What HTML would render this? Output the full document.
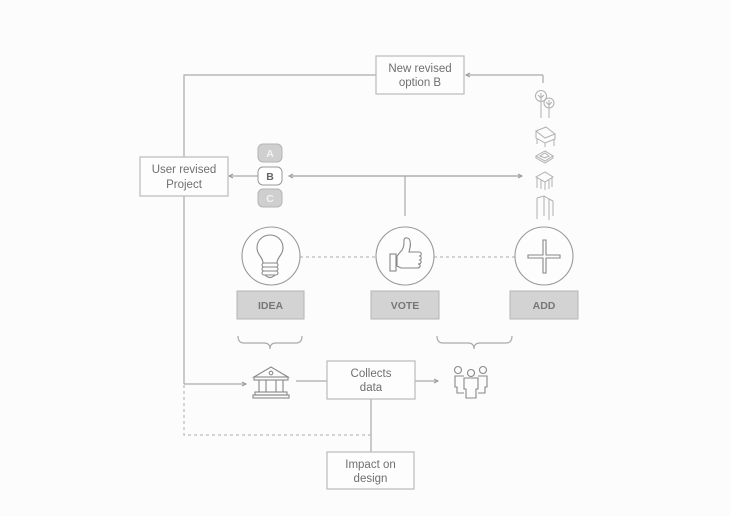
<!DOCTYPE html>
<html><head><meta charset="utf-8"><style>
html,body{margin:0;padding:0;background:#fcfcfc;}
svg{display:block;}
text{font-family:"Liberation Sans","DejaVu Sans",sans-serif;}
</style></head><body>
<svg width="730" height="516" viewBox="0 0 730 516" xmlns="http://www.w3.org/2000/svg">
<defs>
<marker id="ah" markerWidth="8" markerHeight="8" refX="6" refY="4" orient="auto" markerUnits="userSpaceOnUse">
<path d="M2,2 L6,4 L2,6" fill="none" stroke="#999" stroke-width="1"/>
</marker>
</defs>
<rect width="730" height="516" fill="#fcfcfc"/>
<g stroke="#aaa" stroke-width="1.2" fill="none">
<polyline points="184,384 184,75 376,75"/>
<line x1="543" y1="83" x2="543" y2="75"/>
<line x1="543" y1="75" x2="466" y2="75" marker-end="url(#ah)"/>
<line x1="258" y1="176" x2="229" y2="176" marker-end="url(#ah)"/>
<line x1="522" y1="176" x2="289" y2="176" marker-end="url(#ah)"/>
<line x1="289" y1="176" x2="522" y2="176" marker-end="url(#ah)"/>
<line x1="405" y1="176" x2="405" y2="216"/>
<line x1="300" y1="257" x2="376" y2="257" stroke-dasharray="3,3" stroke="#bbb"/>
<line x1="434" y1="257" x2="515" y2="257" stroke-dasharray="3,3" stroke="#bbb"/>
<line x1="184" y1="384" x2="246" y2="384" marker-end="url(#ah)"/>
<line x1="296" y1="381" x2="327" y2="381"/>
<line x1="415" y1="381" x2="438" y2="381" marker-end="url(#ah)"/>
<line x1="371" y1="399" x2="371" y2="452"/>
<polyline points="184,385 184,435 371,435" stroke-dasharray="3,3" stroke="#bbb"/>
<path d="M238,336 Q238,343 244,343 L264,343 Q270,343 270,349 Q270,343 276,343 L296,343 Q302,343 302,336"/>
<path d="M437,336 Q437,343 443,343 L468,343 Q474,343 474,349 Q474,343 480,343 L506,343 Q512,343 512,336"/>
</g>

<g stroke="#bbb" stroke-width="1.2" fill="#fdfdfd">
<rect x="376" y="56" width="88" height="38"/>
<rect x="140" y="157" width="88" height="39"/>
<rect x="327" y="361" width="88" height="38"/>
<rect x="327" y="452" width="87" height="37"/>
</g>
<g fill="#6f6f6f" font-size="11.5" text-anchor="middle">
<text x="420" y="72">New revised</text>
<text x="420" y="86">option B</text>
<text x="184" y="173">User revised</text>
<text x="184" y="188">Project</text>
<text x="371" y="377">Collects</text>
<text x="371" y="391">data</text>
<text x="370.5" y="468">Impact on</text>
<text x="370.5" y="482">design</text>
</g>

<rect x="258" y="144" width="24" height="18" rx="5" fill="#cfcfcf" stroke="#b5b5b5" stroke-width="1"/>
<rect x="258" y="167" width="24" height="18" rx="5" fill="#fff" stroke="#999" stroke-width="1"/>
<rect x="258" y="189" width="24" height="18" rx="5" fill="#cfcfcf" stroke="#b5b5b5" stroke-width="1"/>
<g font-size="10.5" font-weight="bold" text-anchor="middle">
<text x="270" y="157" fill="#f2f2f2">A</text>
<text x="270" y="180" fill="#666">B</text>
<text x="270" y="202" fill="#f2f2f2">C</text>
</g>

<g stroke="#999" stroke-width="1.1" fill="#fdfdfd">
<circle cx="271" cy="256" r="29"/>
<circle cx="405" cy="256" r="29"/>
<circle cx="544" cy="256" r="29"/>
</g>
<g stroke="#888" stroke-width="1.1" fill="none">
<path d="M263,263 C263,257 257,255 257,248 C257,240 263,235 270,235 C277,235 283,240 283,248 C283,255 277,257 277,263 Z"/>
<rect x="262" y="263" width="16" height="4" rx="2"/>
<rect x="262" y="267" width="16" height="4" rx="2"/>
<rect x="262" y="271" width="16" height="4" rx="2"/>
<path d="M265,275 Q270,280 275,275"/>
</g>
<g stroke="#888" stroke-width="1.1" fill="none">
<rect x="390" y="254" width="6" height="17"/>
<path d="M397,256 L402,250 C404,247 404,244 404,240 C404,237 409,237 410,241 C411,245 410,248 409,252 L419,252 C422,252 422,256 419,256 C422,256 422,260 419,260 C422,260 422,264 418,264 C421,264 421,268 417,268 L401,268 L397,266 Z"/>
</g>
<path d="M543,240 L546,240 L546,255 L560,255 L560,258 L546,258 L546,273 L543,273 L543,258 L528,258 L528,255 L543,255 Z" fill="none" stroke="#888" stroke-width="1.1"/>

<g fill="#d3d3d3" stroke="#b5b5b5" stroke-width="1">
<rect x="237" y="291" width="67" height="28"/>
<rect x="371" y="291" width="68" height="28"/>
<rect x="510" y="291" width="68" height="28"/>
</g>
<g fill="#777" font-size="10.5" font-weight="bold" text-anchor="middle">
<text x="270.5" y="309">IDEA</text>
<text x="405" y="309">VOTE</text>
<text x="544" y="309">ADD</text>
</g>

<g stroke="#888" stroke-width="1.1" fill="none">
<path d="M254,377 L271,367 L288,377 Z"/>
<circle cx="271" cy="373" r="1.8"/>
<rect x="254" y="377" width="34" height="3"/>
<line x1="259" y1="380" x2="259" y2="392"/>
<line x1="266" y1="380" x2="266" y2="392"/>
<line x1="276" y1="380" x2="276" y2="392"/>
<line x1="283" y1="380" x2="283" y2="392"/>
<rect x="255" y="392" width="32" height="3"/>
<rect x="253" y="395" width="36" height="3"/>
</g>
<g stroke="#888" stroke-width="1.1" fill="none">
<circle cx="458" cy="370" r="3.5"/>
<circle cx="471" cy="373" r="3.5"/>
<circle cx="483" cy="370" r="3.5"/>
<path d="M464,376 L455,376 L455,387 L457,387 L457,393 L464,393"/>
<path d="M478,376 L487,376 L487,387 L485,387 L485,393 L478,393"/>
<path d="M464,378 L478,378 L478,389 L476,389 L476,398 L466,398 L466,389 L464,389 Z"/>
</g>

<g stroke="#b0b0b0" stroke-width="1" fill="none">
<circle cx="541" cy="96" r="5.5"/>
<circle cx="549" cy="103" r="5"/>
<line x1="541" y1="93" x2="541" y2="118"/>
<line x1="549" y1="100" x2="549" y2="118"/>
<path d="M538,95 L541,98 L544,95"/>
<path d="M546,102 L549,105 L552,102"/>
<path d="M536,131 L546,127 L555,134 L545,138 Z"/>
<path d="M536,131 L536,138 L545,143 L555,139 L555,134"/>
<line x1="537" y1="139" x2="537" y2="144"/>
<line x1="554" y1="139" x2="554" y2="146"/>
<line x1="545" y1="143" x2="545" y2="147"/>
<path d="M536,156 L545,151 L553,156 L545,161 Z"/>
<path d="M536,156 L536,158 L545,163 L553,158 L553,156"/>
<path d="M540,156 L545,153 L549,156 L545,158 Z"/>
<path d="M536,177 L545,172 L553,177 L545,182 Z"/>
<line x1="537" y1="177" x2="537" y2="188"/>
<line x1="545" y1="182" x2="545" y2="190"/>
<line x1="552" y1="177" x2="552" y2="187"/>
<line x1="541" y1="180" x2="541" y2="189"/>
<line x1="549" y1="180" x2="549" y2="189"/>
<line x1="537" y1="198" x2="537" y2="219"/>
<line x1="544" y1="196" x2="544" y2="216"/>
<line x1="549" y1="199" x2="549" y2="220"/>
<line x1="553" y1="201" x2="553" y2="216"/>
<path d="M537,198 L544,196 L549,199 L553,201"/>
</g>
</svg>
</body></html>
